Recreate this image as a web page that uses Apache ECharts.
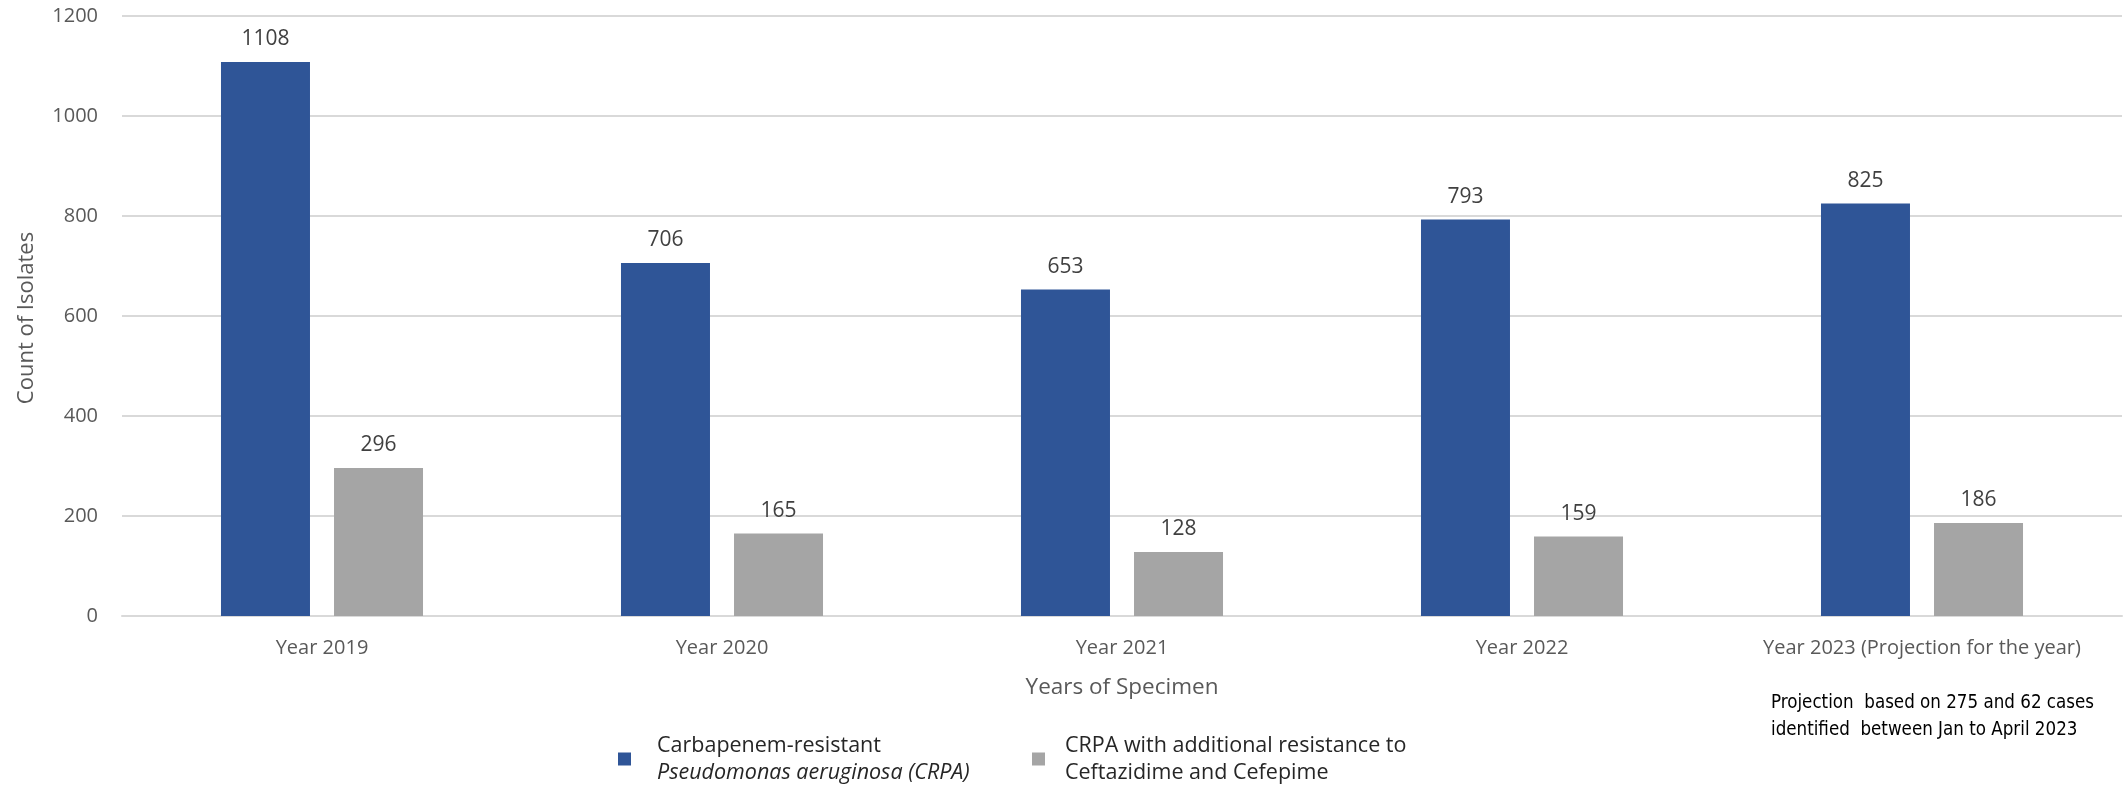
<!DOCTYPE html>
<html>
<head>
    <meta http-equiv="Content-Type" content="text/html; charset=utf-8" />
    <title>CRPA isolates</title>
    <script src="https://cdn.jsdelivr.net/npm/echarts@6/dist/echarts.min.js"></script>
    <style>
        html, body { margin: 0; padding: 0; background: #fff; }
    </style>
</head>
<body>
    <div id="main" style="width: 2126px;height:786px;"></div>
    <script type="text/javascript">

    // data
    var years = ['Year 2019', 'Year 2020', 'Year 2021', 'Year 2022', 'Year 2023 (Projection for the year)'];
    var crpa = [1108, 706, 653, 793, 825];
    var crpaExtra = [296, 165, 128, 159, 186];
    var seriesNames = ['Carbapenem-resistant Pseudomonas aeruginosa (CRPA)', 'CRPA with additional resistance to Ceftazidime and Cefepime'];
    var note = ['Projection  based on 275 and 62 cases', 'identified  between Jan to April 2023'];

    var wide = "'Open Sans', 'Noto Sans', sans-serif";

    var myChart = echarts.init(document.getElementById('main'));

    var barLabel = {
        show: true,
        position: 'top',
        distance: 12,
        color: '#404040',
        fontSize: 21,
        fontFamily: wide
    };

    // legend text style, padding pushes text away from the icon
    function legendText(padLeft) {
        return {
            color: '#262626',
            fontSize: 21.5,
            fontFamily: wide,
            lineHeight: 27,
            padding: [0, 0, 0, padLeft],
            rich: {
                i: { fontStyle: 'italic', fontSize: 21.5, fontFamily: wide, color: '#262626', lineHeight: 27 }
            }
        };
    }

    option = {
        animation: false,
        grid: { left: 122, right: 4, top: 16, bottom: 170 },
        legend: [
            {
                left: 618,
                top: 732,
                padding: 0,
                itemWidth: 13,
                itemHeight: 13,
                icon: 'rect',
                textStyle: legendText(21),
                formatter: function () {
                    return 'Carbapenem-resistant\n{i|Pseudomonas aeruginosa (CRPA)}';
                },
                data: [seriesNames[0]]
            },
            {
                left: 1032,
                top: 732,
                padding: 0,
                itemWidth: 13,
                itemHeight: 13,
                icon: 'rect',
                textStyle: legendText(15),
                formatter: function () {
                    return 'CRPA with additional resistance to\nCeftazidime and Cefepime';
                },
                data: [seriesNames[1]]
            }
        ],
        xAxis: {
            type: 'category',
            data: years,
            name: 'Years of Specimen',
            nameLocation: 'middle',
            nameGap: 60,
            nameTextStyle: { color: '#595959', fontSize: 22.5, fontFamily: wide },
            axisLine: { lineStyle: { color: '#D9D9D9', width: 2 } },
            axisTick: { show: false },
            axisLabel: { color: '#595959', fontSize: 20, fontFamily: wide, margin: 22, interval: 0 }
        },
        yAxis: {
            type: 'value',
            min: 0,
            max: 1200,
            interval: 200,
            name: 'Count of Isolates',
            nameLocation: 'middle',
            nameGap: 84,
            nameRotate: 90,
            nameTextStyle: { color: '#595959', fontSize: 22, fontFamily: wide, padding: [0, 4, 0, 0] },
            axisLine: { show: false },
            axisTick: { show: false },
            axisLabel: {
                color: '#595959', fontSize: 20, fontFamily: wide, margin: 24,
                formatter: function (v) { return String(v); }
            },
            splitLine: { lineStyle: { color: '#D9D9D9', width: 2 } }
        },
        series: [
            {
                name: seriesNames[0],
                type: 'bar',
                data: crpa,
                barWidth: 89,
                barGap: '27%',
                itemStyle: { color: '#2F5597' },
                label: barLabel
            },
            {
                name: seriesNames[1],
                type: 'bar',
                data: crpaExtra,
                barWidth: 89,
                itemStyle: { color: '#A5A5A5' },
                label: barLabel
            }
        ],
        graphic: [
            {
                type: 'text',
                left: 1771,
                top: 690,
                style: {
                    text: note.join('\n'),
                    fill: '#000000',
                    font: "18.6px 'Liberation Sans Narrow', 'DejaVu Sans Condensed', sans-serif",
                    lineHeight: 27
                }
            }
        ]
    };

    myChart.setOption(option);
    </script>
</body>
</html>
